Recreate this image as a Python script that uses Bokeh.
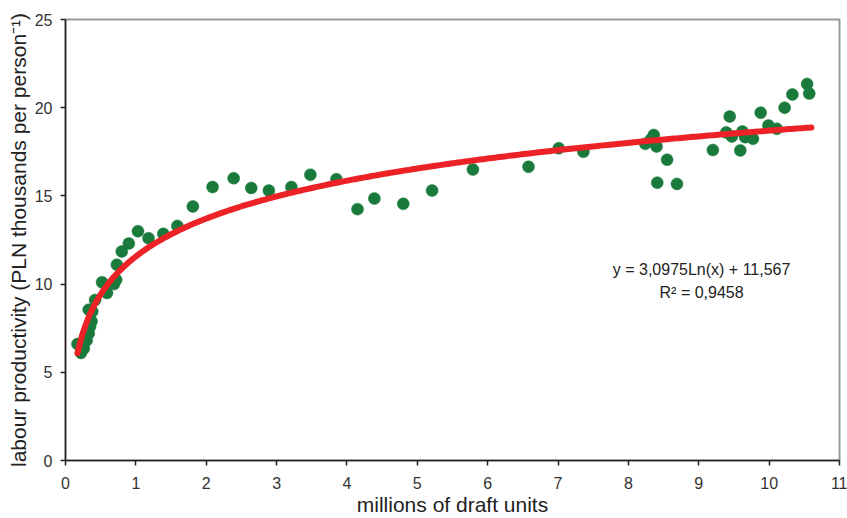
from bokeh.plotting import figure
from bokeh.models import Range1d, FixedTicker, Label, ColumnDataSource
from bokeh.embed import file_html
from bokeh.resources import INLINE
import numpy as np

# data
draft_units = [0.17, 0.22, 0.26, 0.30, 0.33, 0.35, 0.37, 0.33, 0.38, 0.42,
               0.52, 0.59, 0.69, 0.72, 0.73, 0.80, 0.90, 1.03, 1.18, 1.39,
               1.59, 1.81, 2.09, 2.39, 2.64, 2.89, 3.21, 3.48, 3.85, 4.15,
               4.39, 4.80, 5.21, 5.79, 6.58, 7.01, 7.36, 8.24, 8.32, 8.36,
               8.40, 8.41, 8.55, 8.69, 9.20, 9.39, 9.44, 9.47, 9.59, 9.62,
               9.66, 9.77, 9.88, 9.99, 10.11, 10.22, 10.33, 10.54, 10.57]
productivity = [6.6, 6.1, 6.35, 6.8, 7.2, 7.6, 7.9, 8.55, 8.45, 9.1,
                10.1, 9.5, 10.0, 10.25, 11.1, 11.85, 12.3, 13.0, 12.6, 12.85,
                13.3, 14.4, 15.5, 16.0, 15.45, 15.3, 15.5, 16.2, 15.95, 14.25,
                14.85, 14.55, 15.3, 16.5, 16.65, 17.7, 17.5, 17.95, 18.2, 18.45,
                17.8, 15.75, 17.05, 15.68, 17.6, 18.6, 19.5, 18.37, 17.58, 18.65,
                18.33, 18.24, 19.72, 18.99, 18.8, 20.0, 20.75, 21.35, 20.8]

# trendline coefficients shown on the chart: y = a*ln(x) + b
trend_a = 3.0975
trend_b = 11.567
trend_x_start = 0.17
trend_x_end = 10.6

x_ticks = list(range(0, 12))
y_ticks = [0, 5, 10, 15, 20, 25]

eq_text = "y = 3,0975Ln(x) + 11,567"
r2_text = "R\u00b2 = 0,9458"

FONT = "Liberation Sans"

p = figure(width=847, height=518, x_range=Range1d(0, 11), y_range=Range1d(0, 25),
           output_backend="svg", toolbar_location=None,
           min_border_left=65, min_border_right=8, min_border_top=19,
           min_border_bottom=56)
p.background_fill_color = "white"
p.border_fill_color = "white"
p.outline_line_color = "#9a9a9a"
p.outline_line_width = 2
p.xgrid.visible = False
p.ygrid.visible = False

src = ColumnDataSource(dict(x=draft_units, y=productivity))
p.scatter("x", "y", source=src, size=12, fill_color="#197a3c", line_color="#197a3c",
          line_width=0.5)

tx = np.linspace(trend_x_start, trend_x_end, 300)
ty = trend_a * np.log(tx) + trend_b
p.line(tx, ty, line_color="#ed2226", line_width=6, line_cap="round")

for ax in (p.xaxis[0], p.yaxis[0]):
    ax.axis_line_color = "#222222"
    ax.axis_line_width = 1.5
    ax.major_tick_line_color = "#222222"
    ax.major_tick_line_width = 1.5
    ax.major_tick_in = 0
    ax.major_tick_out = 5
    ax.minor_tick_line_color = None
    ax.major_label_text_font = FONT
    ax.major_label_text_font_size = "16px"
    ax.major_label_text_color = "#333333"
    ax.axis_label_text_font = FONT
    ax.axis_label_text_font_size = "21px"
    ax.axis_label_text_font_style = "normal"
    ax.axis_label_text_color = "#222222"

p.xaxis.ticker = FixedTicker(ticks=x_ticks)
p.yaxis.ticker = FixedTicker(ticks=y_ticks)
p.xaxis.axis_label = "millions of draft units"
p.yaxis.axis_label = "labour productivity (PLN thousands per person\u207b\u00b9)"
p.xaxis.major_label_standoff = 11
p.xaxis.axis_label_standoff = 1
p.yaxis.major_label_standoff = 8
p.yaxis.axis_label_standoff = 2

p.add_layout(Label(x=9.04, y=10.8, text=eq_text, text_align="center",
                   text_baseline="middle", text_font=FONT, text_font_size="16px",
                   text_color="#222222"))
p.add_layout(Label(x=9.04, y=9.5, text=r2_text, text_align="center",
                   text_baseline="middle", text_font=FONT, text_font_size="16px",
                   text_color="#222222"))

open("out.html", "w").write(file_html(p, INLINE))
